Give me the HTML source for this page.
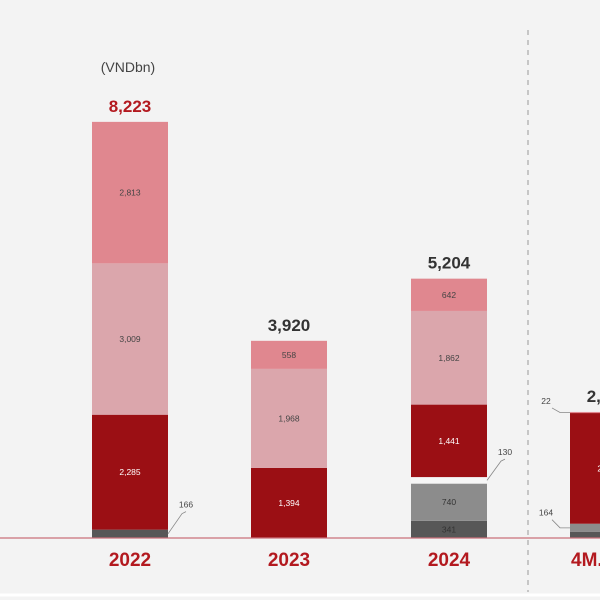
<!DOCTYPE html>
<html><head><meta charset="utf-8"><style>
html,body{margin:0;padding:0;background:#f3f3f3}
svg{display:block;font-family:"Liberation Sans",sans-serif}
</style></head><body>
<svg id="chart" width="600" height="600" viewBox="0 0 600 600">
<rect x="0" y="0" width="600" height="600" fill="#f3f3f3"/>
<line x1="0" y1="595" x2="600" y2="595" stroke="#ffffff" stroke-width="3"/>
<line x1="528" y1="30" x2="528" y2="592" stroke="#999" stroke-width="1" stroke-dasharray="5,5"/>
<text x="128" y="72" text-anchor="middle" font-size="14" fill="#444">(VNDbn)</text>
<g id="bars"></g>
<line x1="0" y1="538" x2="600" y2="538" stroke="#c9707a" stroke-width="1.2"/>
</svg>
<script>
const categories = ["2022","2023","2024","4M.2025"];
const totals = ["8,223","3,920","5,204","2,506"];
const seriesDark = [166, 0, 341, 120];
const seriesGray = [0, 0, 740, 164];
const seriesLight = [0, 0, 130, 0];
const seriesRed = [2285, 1394, 1441, 2200];
const seriesPink = [3009, 1968, 1862, 0];
const seriesRose = [2813, 558, 642, 22];

const baseY = 538, k = 0.0503;
const barX = [92, 251, 411, 570], barW = 76;
const y = v => baseY - v * k;
const NS = "http://www.w3.org/2000/svg";
const g = document.getElementById("bars");
function mk(tag, attrs, txt){const e=document.createElementNS(NS,tag);for(const a in attrs)e.setAttribute(a,attrs[a]);if(txt!==undefined)e.textContent=txt;g.appendChild(e);return e;}
const series = [
 {name:"dark", vals:seriesDark, fill:"#575757", tc:"#333"},
 {name:"gray", vals:seriesGray, fill:"#8c8c8c", tc:"#333"},
 {name:"light", vals:seriesLight, fill:"#f6f6f6", tc:"#333"},
 {name:"red", vals:seriesRed, fill:"#9b0f14", tc:"#fff"},
 {name:"pink", vals:seriesPink, fill:"#dba6ac", tc:"#444"},
 {name:"rose", vals:seriesRose, fill:"#e0878f", tc:"#444"}
];
for (let i=0;i<categories.length;i++){
  let cum=0;
  for (const s of series){
    const v=s.vals[i]; if(!v) continue;
    const y0=y(cum), y1=y(cum+v);
    const r=mk("rect",{x:barX[i],y:y1,width:barW,height:y0-y1,fill:s.fill});
    
    
    const h=y0-y1;
    if(h>14){
      const t=mk("text",{x:barX[i]+barW/2,y:(y0+y1)/2+3,"text-anchor":"middle","font-size":"8.5",fill:s.tc},v.toLocaleString("en-US"));
      
      
    } else if(!(i===3 && s.name==="dark")) {
      let lx, ly, ax, ay;
      if(i===3){ lx=barX[i]-24; ly=y1-8; ax=barX[i]; ay=(y0+y1)/2; }
      else { lx=barX[i]+barW+18; ly=y1-22; ax=barX[i]+barW; ay=(y0+y1)/2; }
      const l=mk("polyline",{points:(i===3?(lx+6)+","+(ly+4)+" "+(lx+14)+","+ay+" "+ax+","+ay:ax+","+ay+" "+(lx-4)+","+(ly+6)+" "+lx+","+(ly+4)),fill:"none",stroke:"#888","stroke-width":"0.8"});
      
      
      const t=mk("text",{x:lx,y:ly,"text-anchor":"middle","font-size":"8.5",fill:"#444"},v.toLocaleString("en-US"));
      
      
    }
    cum+=v;
  }
  const tt=mk("text",{x:barX[i]+barW/2,y:y(cum)-10,"text-anchor":"middle","font-size":"17","font-weight":"bold",fill:i===0?"#b3191f":"#333"},totals[i]);
  
  
  const c=mk("text",{x:barX[i]+barW/2,y:566,"text-anchor":"middle","font-size":"19","font-weight":"bold",fill:"#b3191f"},categories[i]);
  
  
}
</script>
</body></html>
